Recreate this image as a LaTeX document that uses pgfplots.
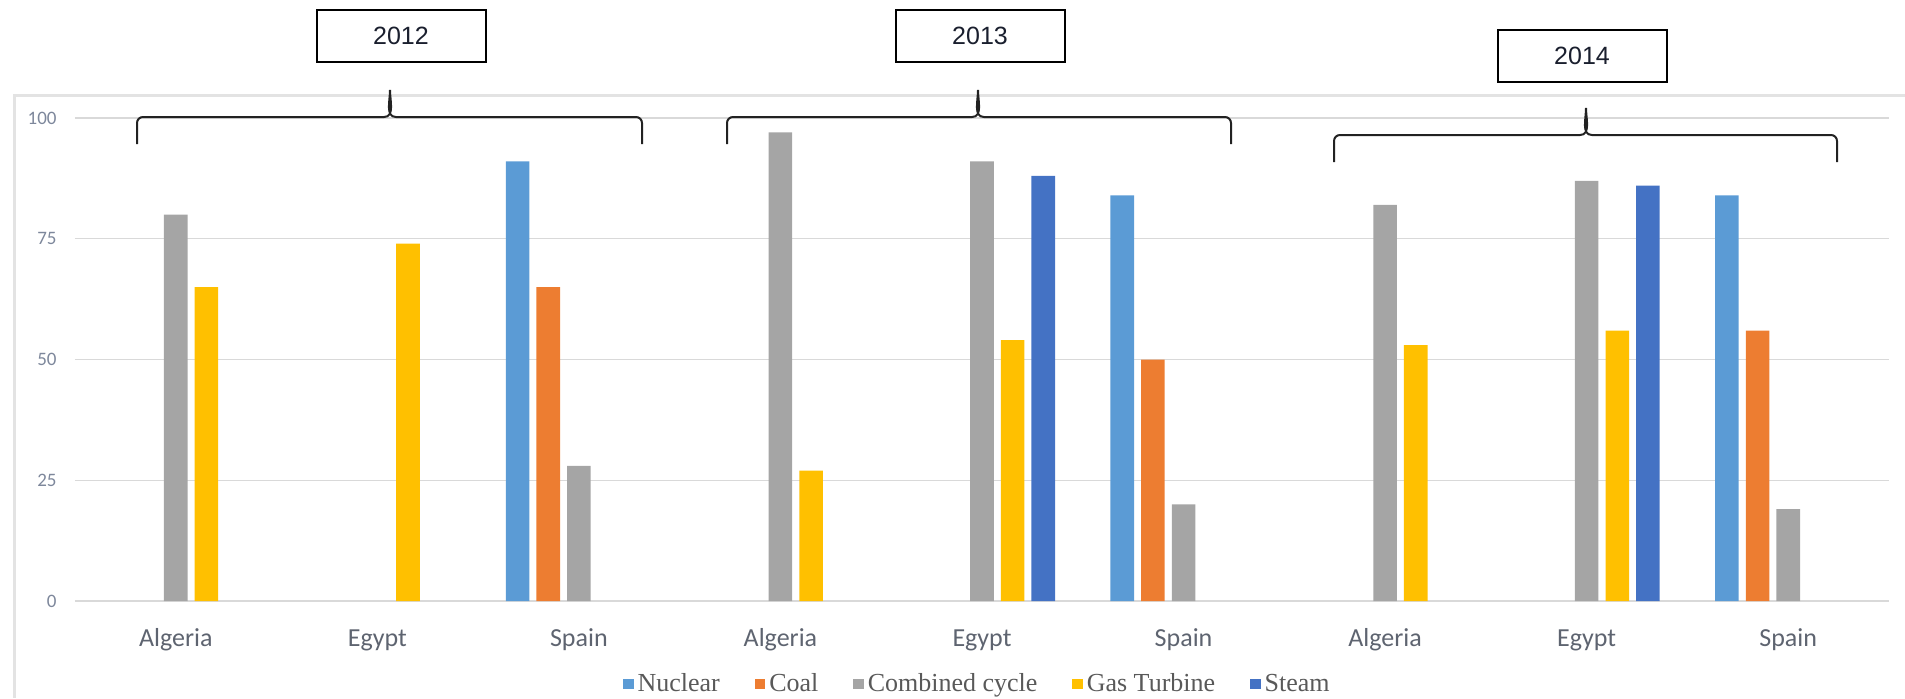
\documentclass[border=0pt]{standalone}
\usepackage{pgfplots}
\pgfplotsset{compat=1.18}
\usepackage{fontspec}
\setmainfont{Liberation Serif}
\newfontfamily\carlito{Carlito}
\newfontfamily\arialf{Liberation Sans}
\definecolor{nuc}{HTML}{5B9BD5}
\definecolor{coal}{HTML}{ED7D31}
\definecolor{cc}{HTML}{A5A5A5}
\definecolor{gt}{HTML}{FFC000}
\definecolor{steam}{HTML}{4472C4}
\definecolor{gridcol}{HTML}{D9D9D9}
\definecolor{bordercol}{HTML}{E3E3E3}
\definecolor{legtext}{HTML}{595959}
\definecolor{xlab}{HTML}{5E6470}
\definecolor{ylab}{HTML}{7D879B}
\definecolor{boxtext}{HTML}{1A1F2E}
\definecolor{bracecol}{HTML}{222222}
\pgfplotsset{
  mybar/.style={ybar, bar width=0.117, draw=none,
    legend image code/.code={\fill[##1] (0pt,-2.6pt) rectangle (5.2pt,2.6pt);}},
}
\newcommand\mybrace[6]{% xL xR xm h dEnd dTip
  \draw[bracecol, line width=1pt]
    (#1pt,{#4pt-#5pt}) -- (#1pt,{#4pt-3pt}) to[out=90,in=180] ({#1pt+3pt},#4pt)
    -- ({#3pt-3pt},#4pt) to[out=0,in=-90] (#3pt,{#4pt+#6pt})
    to[out=-90,in=180] ({#3pt+3pt},#4pt)
    -- ({#2pt-3pt},#4pt) to[out=0,in=90] (#2pt,{#4pt-3pt}) -- (#2pt,{#4pt-#5pt});
}
\begin{document}
\begin{tikzpicture}
\draw[bordercol, line width=1.5pt] (-30pt,-48.5pt) -- (-30pt,253pt) -- (915pt,253pt);
\begin{axis}[
  at={(0pt,0pt)}, anchor=south west,
  scale only axis, width=907pt, height=241.5pt,
  xmin=-0.5, xmax=8.5, ymin=0, ymax=100,
  ytick={0,25,50,75,100},
  xtick={0,1,2,3,4,5,6,7,8},
  xticklabels={Algeria,Egypt,Spain,Algeria,Egypt,Spain,Algeria,Egypt,Spain},
  ymajorgrids, grid style={gridcol, line width=0.6pt},
  axis line style={draw=none},
  major tick length=0pt,
  clip=false,
  /pgf/number format/assume math mode=true,
  xticklabel style={font=\carlito\fontsize{13}{15}\selectfont, text=xlab, anchor=base, yshift=-22.5pt, inner sep=0pt},
  yticklabel style={font=\carlito\fontsize{9.5}{11}\selectfont, text=ylab, anchor=east, xshift=-9pt, inner sep=0pt},
  legend style={at={(0.498,-0.172)}, anchor=center, draw=none, fill=none,
    legend columns=-1,
    font=\fontsize{13}{15}\selectfont,
    text=legtext,
    /tikz/every even column/.append style={column sep=15.5pt}},
]
\addplot[mybar, fill=nuc, bar shift=-0.304] coordinates {(2,91) (5,84) (8,84)};
\addlegendentry{Nuclear}
\addplot[mybar, fill=coal, bar shift=-0.152] coordinates {(2,65) (5,50) (8,56)};
\addlegendentry{Coal}
\addplot[mybar, fill=cc, bar shift=0] coordinates {(0,80) (2,28) (3,97) (4,91) (5,20) (6,82) (7,87) (8,19)};
\addlegendentry{Combined cycle}
\addplot[mybar, fill=gt, bar shift=0.152] coordinates {(0,65) (1,74) (3,27) (4,54) (6,53) (7,56)};
\addlegendentry{Gas Turbine}
\addplot[mybar, fill=steam, bar shift=0.304] coordinates {(4,88) (7,86)};
\addlegendentry{Steam}
\end{axis}
\mybrace{31}{283.5}{157.5}{242}{13.5}{13.5}
\mybrace{326}{578}{451.5}{242}{13.5}{13.5}
\mybrace{629.5}{881}{755.5}{233}{13.5}{13.5}
\tikzset{yearbox/.style={draw=black, line width=1pt, fill=white, minimum width=84.5pt, minimum height=26pt, inner sep=0pt, font=\arialf\fontsize{12.5}{14}\selectfont, text=boxtext}}
\node[yearbox] at (163pt,282.5pt) {2012};
\node[yearbox] at (452.5pt,282.5pt) {2013};
\node[yearbox] at (753.5pt,272.75pt) {2014};
\pgfresetboundingbox
\useasboundingbox (-37.5pt,-48.5pt) rectangle (915pt,300.5pt);
\end{tikzpicture}
\end{document}
